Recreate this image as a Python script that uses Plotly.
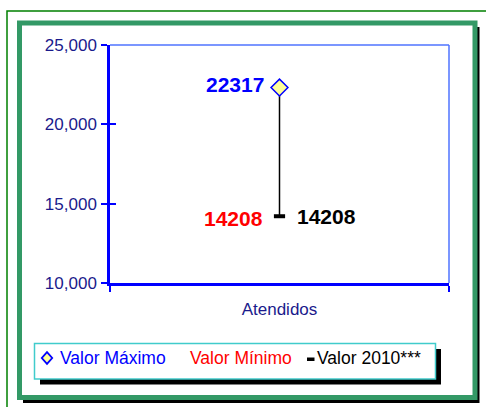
import plotly.graph_objects as go

# ==========================================
# DATA
# ==========================================

categories = ["Atendidos"]
valor_maximo = [22317]
valor_minimo = [14208]
valor_2010 = [14208]
y_ticks = [10000, 15000, 20000, 25000]
legend_labels = ["Valor Máximo", "Valor Mínimo", "Valor 2010***"]

W, H = 486, 407
L, R, T, B = 110, 449, 45, 283   # plot area in pixels


def px_x(p):
    return (p - L) / (R - L)


def px_y(p):
    return (B - p) / (B - T)


FONT = "Liberation Sans, Arial, sans-serif"
NAVY = "#1a1a8c"
BLUE = "#0000ff"
RED = "#ff0000"

fig = go.Figure()

# high-low line between max and min
fig.add_trace(go.Scatter(
    x=categories * 2,
    y=[valor_2010[0], valor_maximo[0]],
    mode="lines",
    line=dict(color="black", width=1.5),
    hoverinfo="skip"
))

fig.add_trace(go.Scatter(
    x=categories, y=valor_maximo, mode="markers",
    name=legend_labels[0],
    marker=dict(symbol="diamond", size=13, color="#ffff99",
                line=dict(color=BLUE, width=1.5))
))

fig.add_trace(go.Scatter(
    x=categories, y=valor_minimo, mode="markers",
    name=legend_labels[1],
    marker=dict(size=10, color="rgba(0,0,0,0)")
))

fig.add_trace(go.Scatter(
    x=categories, y=valor_2010, mode="markers",
    name=legend_labels[2],
    marker=dict(symbol="line-ew", size=8,
                line=dict(color="black", width=4))
))

# empty trace to carry the inner half of the y ticks
fig.add_trace(go.Scatter(x=[], y=[], yaxis="y2"))

# data labels
label_font = dict(family=FONT, size=21, weight="bold")
fig.add_annotation(x=categories[0], y=valor_maximo[0], text=str(valor_maximo[0]),
                   showarrow=False, xanchor="right", xshift=-14, yshift=3,
                   font=dict(label_font, color=BLUE))
fig.add_annotation(x=categories[0], y=valor_minimo[0], text=str(valor_minimo[0]),
                   showarrow=False, xanchor="right", xshift=-15, yshift=-2,
                   font=dict(label_font, color=RED))
fig.add_annotation(x=categories[0], y=valor_2010[0], text=str(valor_2010[0]),
                   showarrow=False, xanchor="left", xshift=15,
                   font=dict(label_font, color="#000000"))

# ==========================================
# LEGEND (drawn by hand, Excel style)
# ==========================================

leg_y = 358
leg_font = dict(family=FONT, size=17.5)
for label, x0, color in zip(legend_labels, [58, 188, 315], [BLUE, RED, "#000000"]):
    fig.add_annotation(xref="paper", yref="paper", x=px_x(x0), y=px_y(leg_y),
                       text=label, showarrow=False, xanchor="left", yanchor="middle",
                       font=dict(leg_font, color=color))

# diamond symbol
dx, dy = 5.2, 5.8
cx, cy = 47, leg_y
diamond_path = "M {} {} L {} {} L {} {} L {} {} Z".format(
    px_x(cx), px_y(cy - dy), px_x(cx + dx), px_y(cy),
    px_x(cx), px_y(cy + dy), px_x(cx - dx), px_y(cy))

# ==========================================
# FRAME / LEGEND BOX SHAPES
# ==========================================

shapes = [
    # outer thin green line
    dict(type="rect", xref="paper", yref="paper",
         x0=px_x(7), y0=px_y(11), x1=px_x(495), y1=px_y(415),
         line=dict(color="#008000", width=1.5), layer="below"),
    # frame shadow
    dict(type="rect", xref="paper", yref="paper",
         x0=px_x(23), y0=px_y(27), x1=px_x(479.5), y1=px_y(403),
         line=dict(width=0), fillcolor="black", layer="below"),
    # thick green frame
    dict(type="rect", xref="paper", yref="paper",
         x0=px_x(19.5), y0=px_y(23), x1=px_x(475), y1=px_y(397.5),
         line=dict(color="#339966", width=5), fillcolor="white", layer="below"),
    # legend shadow
    dict(type="rect", xref="paper", yref="paper",
         x0=px_x(40), y0=px_y(349), x1=px_x(441), y1=px_y(384.5),
         line=dict(width=0), fillcolor="black", layer="below"),
    # legend box
    dict(type="rect", xref="paper", yref="paper",
         x0=px_x(34.5), y0=px_y(343.5), x1=px_x(435.5), y1=px_y(379),
         line=dict(color="#40cccc", width=1.5), fillcolor="white", layer="below"),
    # legend symbols
    dict(type="path", xref="paper", yref="paper", path=diamond_path,
         fillcolor="#ffff99", line=dict(color=BLUE, width=1.8)),
    dict(type="rect", xref="paper", yref="paper",
         x0=px_x(307), y0=px_y(357.5), x1=px_x(314.5), y1=px_y(361),
         fillcolor="black", line=dict(width=0)),
    # top and right plot border
    dict(type="line", xref="paper", yref="paper", x0=0, y0=1, x1=1, y1=1,
         line=dict(color="#4f73ff", width=1.5)),
    dict(type="line", xref="paper", yref="paper", x0=1, y0=0, x1=1, y1=1,
         line=dict(color="#4f73ff", width=1.5)),
]

fig.update_layout(
    width=W, height=H,
    margin=dict(l=L, r=W - R, t=T, b=H - B),
    paper_bgcolor="white",
    plot_bgcolor="white",
    font=dict(family=FONT, size=17, color=NAVY),
    shapes=shapes,
    showlegend=False,
    xaxis=dict(
        type="category", categoryorder="array", categoryarray=categories,
        range=[-0.5, 0.5], tickson="boundaries",
        ticks="outside", ticklen=6, tickwidth=2, tickcolor=BLUE,
        showline=True, linecolor=BLUE, linewidth=2.5,
        showgrid=False, zeroline=False,
        ticklabelstandoff=9,
        tickfont=dict(family=FONT, size=17, color=NAVY),
    ),
    yaxis=dict(
        range=[y_ticks[0], y_ticks[-1]], tickvals=y_ticks, tickformat=",",
        ticks="outside", ticklen=6, tickwidth=2, tickcolor=BLUE,
        showline=True, linecolor=BLUE, linewidth=2.5,
        showgrid=False, zeroline=False,
        ticklabelstandoff=1,
        tickfont=dict(family=FONT, size=17, color=NAVY),
    ),
    yaxis2=dict(
        overlaying="y", side="left", anchor="x",
        range=[y_ticks[0], y_ticks[-1]], tickvals=y_ticks,
        ticks="inside", ticklen=6, tickwidth=2, tickcolor=BLUE,
        showticklabels=False, showline=False, showgrid=False, zeroline=False,
    ),
)

# drop the page's default body margin so the figure sits at the top-left corner
fig.write_html("out.html", config={"displayModeBar": False},
               post_script="document.body.style.margin='0';")
